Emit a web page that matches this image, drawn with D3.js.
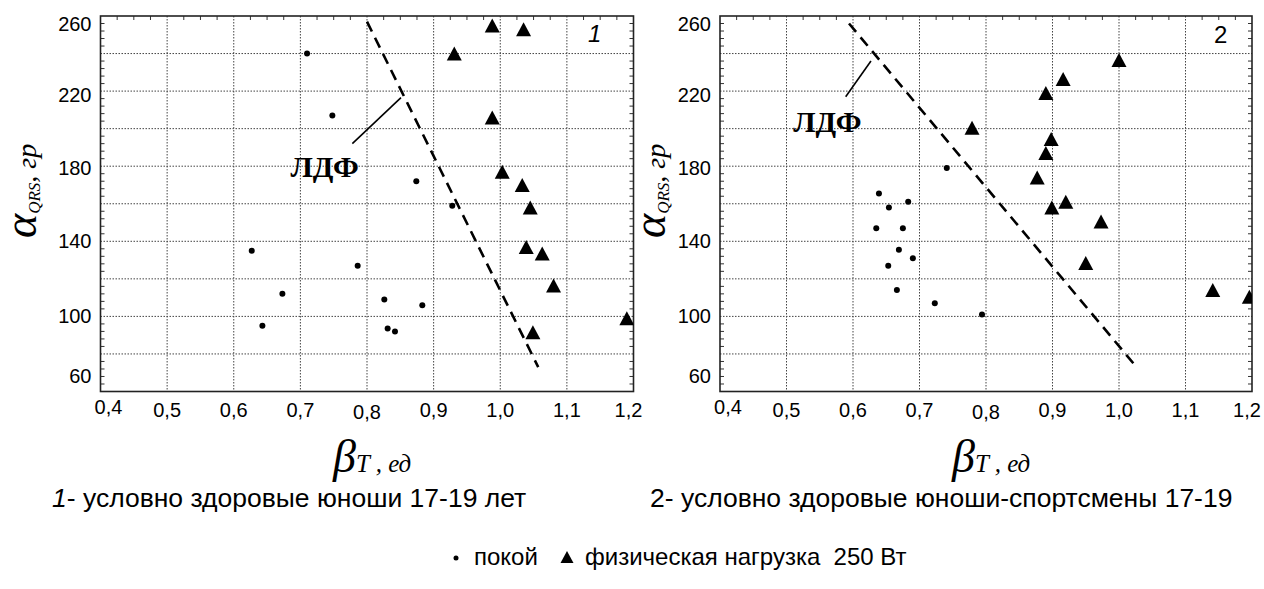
<!DOCTYPE html>
<html>
<head>
<meta charset="utf-8">
<script src="https://cdn.jsdelivr.net/npm/d3@7"></script>
<style>
  html, body { margin: 0; padding: 0; background: #fff; }
  svg { display: block; }
</style>
</head>
<body>
<svg id="chart" width="1264" height="589"></svg>
<script>
// Two scatter panels: β_T vs α_QRS, rest (dots) vs 250 W load (triangles), with LDF line.

const X_DOMAIN = [0.4, 1.2];
const Y_DOMAIN = [60, 260];
const X_TICKS = [0.4, 0.5, 0.6, 0.7, 0.8, 0.9, 1.0, 1.1, 1.2];
const Y_TICKS = [60, 100, 140, 180, 220, 260];
const X_GRID = [0.5, 0.6, 0.7, 0.8, 0.9, 1.0, 1.1];
const Y_GRID = [80, 100, 120, 140, 160, 180, 200, 220, 240];

// panel 1 — условно здоровые юноши
const rest1X = [0.627, 0.643, 0.673, 0.71, 0.748, 0.786, 0.826, 0.831, 0.842, 0.874, 0.883, 0.928];
const rest1Y = [135, 95, 112, 240, 207, 127, 109, 93.5, 92, 172, 106, 159];
const load1X = [0.931, 0.988, 0.988, 1.003, 1.033, 1.035, 1.039, 1.045, 1.049, 1.063, 1.08, 1.19];
const load1Y = [240, 255, 206, 177, 170, 253, 137, 158, 91.5, 133.5, 116.5, 99];
const ldf1X = [0.80, 1.057];
const ldf1Y = [257, 73];

// panel 2 — юноши-спортсмены
const rest2X = [0.635, 0.639, 0.653, 0.654, 0.666, 0.669, 0.675, 0.683, 0.69, 0.723, 0.741, 0.794];
const rest2Y = [147, 165.5, 127, 158, 114, 135.5, 147, 161, 131, 107, 179, 101];
const load2X = [0.779, 0.877, 0.89, 0.89, 0.898, 0.899, 0.916, 0.92, 0.95, 0.973, 1.0, 1.141, 1.196];
const load2Y = [200.5, 174, 219, 187, 194.5, 158, 226.5, 161, 128.5, 150.5, 236.5, 114, 110.5];
const ldf2X = [0.594, 1.024];
const ldf2Y = [256, 74];

const CAPTIONS = ["1", "2"];
const CAPTION_TEXT = [
  "- условно здоровые юноши 17-19 лет",
  "- условно здоровые юноши-спортсмены 17-19",
];
const LEGEND = ["покой", "физическая нагрузка  250 Вт"];

const zip = (xs, ys) => xs.map((x, i) => ({ x, y: ys[i] }));

const PANELS = [
  {
    key: "p1", left: 100.5, right: 633.5, titleX: 36,
    rest: zip(rest1X, rest1Y), load: zip(load1X, load1Y), ldf: zip(ldf1X, ldf1Y),
    leader: [{ x: 0.778, y: 192 }, { x: 0.851, y: 216.5 }],
    ldfLabel: { x: 0.685, y: 174 },
    tag: { text: "1", italic: true, x: 588, y: 42 },
  },
  {
    key: "p2", left: 720, right: 1252, titleX: 665,
    rest: zip(rest2X, rest2Y), load: zip(load2X, load2Y), ldf: zip(ldf2X, ldf2Y),
    leader: [{ x: 0.589, y: 217 }, { x: 0.627, y: 236 }],
    ldfLabel: { x: 0.51, y: 198 },
    tag: { text: "2", italic: false, x: 1214, y: 43 },
  },
];

const TOP = 16, BOTTOM = 391.5;
const SANS = "'Liberation Sans', Arial, sans-serif";
const SERIF = "'Liberation Serif', 'Times New Roman', serif";

const svg = d3.select("#chart");
svg.append("rect").attr("width", 1264).attr("height", 589).attr("fill", "#fff");

const fmt = (v) => d3.format(".1f")(v).replace(".", ",");
// edge labels in the source sit inward of their gridline
const yLabelShift = { 260: 8, 220: 4, 180: 2, 140: 0, 100: 0, 60: -16 };
const xLabelShift = { 0.4: 8, 1.2: -5 };

function drawPanel(p) {
  const x = d3.scaleLinear().domain(X_DOMAIN).range([p.left, p.right]);
  const y = d3.scaleLinear().domain(Y_DOMAIN).range([BOTTOM, TOP]);
  const g = svg.append("g").attr("class", p.key);

  g.append("clipPath").attr("id", `clip-${p.key}`)
    .append("rect").attr("x", p.left).attr("y", TOP)
    .attr("width", p.right - p.left).attr("height", BOTTOM - TOP);

  // dotted grid
  g.selectAll(".gx").data(X_GRID).join("line")
    .attr("x1", (d) => x(d)).attr("x2", (d) => x(d))
    .attr("y1", TOP).attr("y2", BOTTOM)
    .attr("stroke", "#444").attr("stroke-width", 1).attr("stroke-dasharray", "1.5,1.5");
  g.selectAll(".gy").data(Y_GRID).join("line")
    .attr("x1", p.left).attr("x2", p.right)
    .attr("y1", (d) => y(d)).attr("y2", (d) => y(d))
    .attr("stroke", "#444").attr("stroke-width", 1).attr("stroke-dasharray", "1.5,1.5");

  // minor ticks, pointing inward
  const yMinor = d3.range(64, 260, 4).filter((v) => v % 20 !== 0);
  const xMinor = d3.range(0.425, 1.2, 0.025).filter((v) => Math.abs(v * 10 - Math.round(v * 10)) > 0.01);
  g.selectAll(".ml").data(yMinor).join("line")
    .attr("x1", p.left).attr("x2", p.left + 4)
    .attr("y1", (d) => y(d)).attr("y2", (d) => y(d))
    .attr("stroke", "#333").attr("stroke-width", 1);
  g.selectAll(".mr").data(yMinor).join("line")
    .attr("x1", p.right - 4).attr("x2", p.right)
    .attr("y1", (d) => y(d)).attr("y2", (d) => y(d))
    .attr("stroke", "#333").attr("stroke-width", 1);
  g.selectAll(".mt").data(xMinor).join("line")
    .attr("x1", (d) => x(d)).attr("x2", (d) => x(d))
    .attr("y1", TOP).attr("y2", TOP + 4)
    .attr("stroke", "#333").attr("stroke-width", 1);

  // frame
  g.append("rect").attr("x", p.left).attr("y", TOP)
    .attr("width", p.right - p.left).attr("height", BOTTOM - TOP)
    .attr("fill", "none").attr("stroke", "#222").attr("stroke-width", 1.6);

  // tick labels
  g.selectAll(".yl").data(Y_TICKS).join("text")
    .attr("x", p.left - 9).attr("y", (d) => y(d) + (yLabelShift[d] || 0))
    .attr("dy", "0.35em").attr("text-anchor", "end")
    .style("font-family", SANS).style("font-size", "20px").style("fill", "#000")
    .text((d) => d);
  g.selectAll(".xl").data(X_TICKS).join("text")
    .attr("x", (d) => x(d) + (xLabelShift[d] || 0))
    .attr("y", (d) => (d === 0.4 ? 414 : d === 0.8 ? 419 : 417))
    .attr("text-anchor", "middle")
    .style("font-family", SANS).style("font-size", "20px").style("fill", "#000")
    .text(fmt);

  const plot = g.append("g").attr("clip-path", `url(#clip-${p.key})`);

  // LDF dashed line and its leader
  plot.append("path").datum(p.ldf)
    .attr("d", d3.line().x((d) => x(d.x)).y((d) => y(d.y)))
    .attr("fill", "none").attr("stroke", "#000").attr("stroke-width", 2.6)
    .attr("stroke-dasharray", "11,7");
  plot.append("path").datum(p.leader)
    .attr("d", d3.line().x((d) => x(d.x)).y((d) => y(d.y)))
    .attr("fill", "none").attr("stroke", "#000").attr("stroke-width", 1.6);

  g.append("text").attr("x", x(p.ldfLabel.x)).attr("y", y(p.ldfLabel.y))
    .style("font-family", SERIF).style("font-weight", "bold").style("font-size", "30px")
    .text("ЛДФ");

  // rest = dots
  plot.selectAll(".dot").data(p.rest).join("circle")
    .attr("cx", (d) => x(d.x)).attr("cy", (d) => y(d.y)).attr("r", 3).attr("fill", "#000");

  // load = triangles
  plot.selectAll(".tri").data(p.load).join("path")
    .attr("transform", (d) => `translate(${x(d.x)},${y(d.y)})`)
    .attr("d", "M0,-7L7.5,7L-7.5,7Z").attr("fill", "#000");

  // panel number
  g.append("text").attr("x", p.tag.x).attr("y", p.tag.y)
    .style("font-family", SANS).style("font-size", "24px")
    .style("font-style", p.tag.italic ? "italic" : "normal")
    .text(p.tag.text);

  // y title: α_QRS, гр (rotated)
  const yt = g.append("text")
    .attr("transform", `translate(${p.titleX},238) rotate(-90)`)
    .style("font-family", SERIF).style("font-style", "italic");
  yt.append("tspan").style("font-size", "46px").text("α");
  yt.append("tspan").style("font-size", "17px").attr("dy", 4).text("QRS");
  yt.append("tspan").style("font-size", "28px").attr("dy", -4).text(", гр");

  // x title: β_T , ед
  const cx = (p.left + p.right) / 2;
  const xt = g.append("text").attr("x", cx - 34).attr("y", 472)
    .style("font-family", SERIF).style("font-style", "italic");
  xt.append("tspan").style("font-size", "46px").text("β");
  xt.append("tspan").style("font-size", "25px").text("T");
  xt.append("tspan").style("font-size", "25px").text(" , ед");
}

PANELS.forEach(drawPanel);

// captions under the panels
const capX = [52, 650];
CAPTIONS.forEach((c, i) => {
  const t = svg.append("text").attr("x", capX[i]).attr("y", 507)
    .style("font-family", SANS).style("font-size", "26.5px");
  t.append("tspan").style("font-style", i === 0 ? "italic" : "normal").text(c);
  t.append("tspan").text(CAPTION_TEXT[i]);
});

// legend
const lg = svg.append("g").attr("transform", "translate(0,565)");
lg.append("circle").attr("cx", 456).attr("cy", -7).attr("r", 2.5).attr("fill", "#000");
lg.append("text").attr("x", 474).attr("y", 0)
  .style("font-family", SANS).style("font-size", "24px").text(LEGEND[0]);
lg.append("path").attr("transform", "translate(567,-8)")
  .attr("d", "M0,-6L6.5,6L-6.5,6Z").attr("fill", "#000");
lg.append("text").attr("x", 585).attr("y", 0)
  .style("font-family", SANS).style("font-size", "24px")
  .style("white-space", "pre").text(LEGEND[1]);
</script>
</body>
</html>
